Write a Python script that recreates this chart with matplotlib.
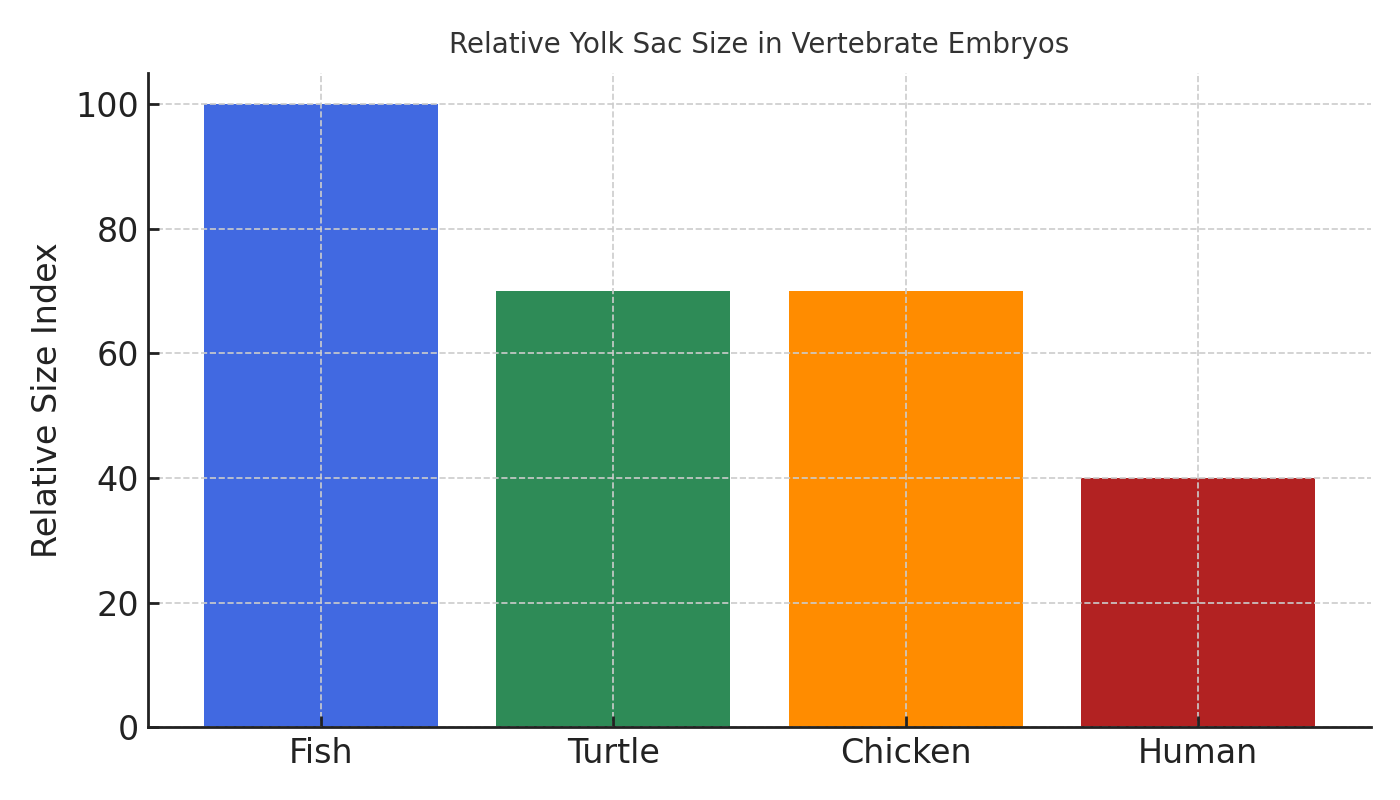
import matplotlib.pyplot as plt

# data
animals = ['Fish', 'Turtle', 'Chicken', 'Human']
size_index = [100, 70, 70, 40]
bar_colors = ['royalblue', 'seagreen', 'darkorange', 'firebrick']

fig, ax = plt.subplots(figsize=(7, 4), dpi=200)
ax.bar(animals, size_index, color=bar_colors, width=0.8, zorder=1)

ax.set_title('Relative Yolk Sac Size in Vertebrate Embryos', fontsize=10, color='#333333', pad=7)
ax.set_ylabel('Relative Size Index', fontsize=12, color='#222222')
ax.tick_params(axis='both', labelsize=12, labelcolor='#222222', direction='in',
               length=4, width=1, color='#222222')
ax.set_yticks([0, 20, 40, 60, 80, 100])

ax.grid(True, linestyle='--', color='#cccccc', linewidth=0.6, zorder=2)
ax.set_axisbelow(False)
for side in ['top', 'right']:
    ax.spines[side].set_visible(False)
for side in ['left', 'bottom']:
    ax.spines[side].set_color('#222222')
    ax.spines[side].set_linewidth(1)
    ax.spines[side].set_zorder(3)

plt.subplots_adjust(left=0.106, right=0.979, top=0.909, bottom=0.091)
plt.savefig('out.png', dpi=200)
